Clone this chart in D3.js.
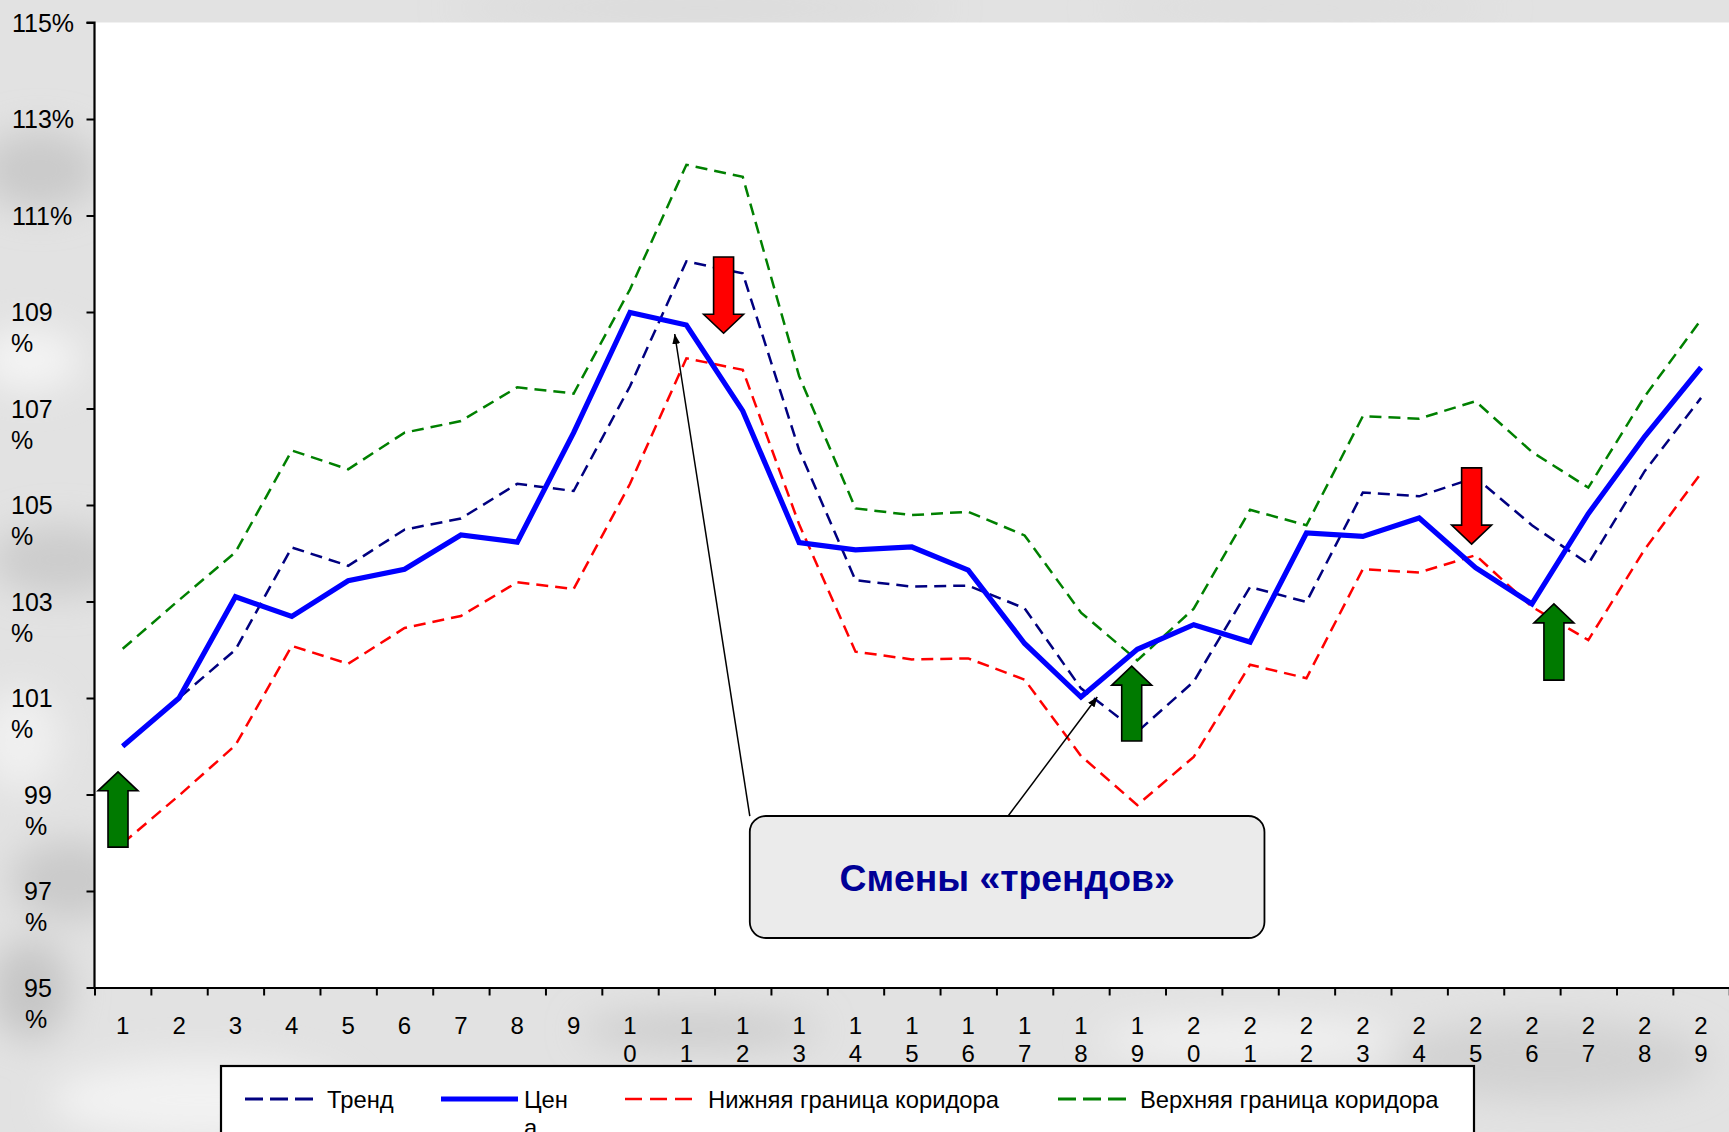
<!DOCTYPE html>
<html>
<head>
<meta charset="utf-8">
<script src="https://cdn.jsdelivr.net/npm/d3@7"></script>
<style>
  html, body { margin: 0; padding: 0; background: #e4e4e4; overflow: hidden; }
  svg { display: block; font-family: "Liberation Sans", Arial, sans-serif; }
</style>
</head>
<body>
<svg id="chart" width="1729" height="1132"></svg>
<script>
// ---------- data ----------
const categories = ["1","2","3","4","5","6","7","8","9","10","11","12","13","14","15","16","17","18","19","20","21","22","23","24","25","26","27","28","29"];
const trend = [100.0, 101.0, 102.0, 104.12, 103.74, 104.49, 104.72, 105.44, 105.29, 107.46, 110.05, 109.8, 106.14, 103.44, 103.31, 103.33, 102.86, 101.2, 100.3, 101.34, 103.3, 102.99, 105.26, 105.18, 105.57, 104.58, 103.78, 105.7, 107.22];
const price = [100.0, 101.0, 103.1, 102.69, 103.43, 103.67, 104.38, 104.23, 106.5, 108.99, 108.73, 106.95, 104.22, 104.07, 104.13, 103.65, 102.13, 101.02, 102.01, 102.52, 102.16, 104.42, 104.35, 104.73, 103.7, 102.95, 104.82, 106.42, 107.85];
const lower = [97.99, 98.98, 100.02, 102.08, 101.71, 102.45, 102.7, 103.4, 103.26, 105.44, 108.04, 107.8, 104.6, 101.96, 101.8, 101.82, 101.38, 99.8, 98.78, 99.78, 101.69, 101.41, 103.67, 103.6, 103.96, 102.89, 102.2, 104.08, 105.66];
const upper = [102.02, 103.03, 104.02, 106.13, 105.74, 106.5, 106.74, 107.44, 107.31, 109.47, 112.05, 111.8, 107.67, 104.93, 104.79, 104.86, 104.37, 102.77, 101.78, 102.85, 104.9, 104.58, 106.84, 106.79, 107.15, 106.1, 105.36, 107.25, 108.84];
const yTicks = [95, 97, 99, 101, 103, 105, 107, 109, 111, 113, 115];
const seriesNames = ["Тренд", "Цена", "Нижняя граница коридора", "Верхняя граница коридора"];
// annotation arrows: position in category units, from value -> to value
const upArrows = [{pos: 0.917, from: 97.91, to: 99.47}, {pos: 18.9, from: 100.11, to: 101.66}, {pos: 26.39, from: 101.37, to: 102.95}];
const downArrows = [{pos: 11.66, from: 110.14, to: 108.56}, {pos: 24.93, from: 105.77, to: 104.19}];
const calloutText = "Смены «трендов»";
const calloutBox = {p0: 12.125, p1: 21.255, v0: 98.554, v1: 96.026};
const calloutPointers = [{fromPos: 12.125, toPos: 10.793, toVal: 108.544}, {fromPos: 16.707, toPos: 18.289, toVal: 101.02}];

(function () {
// ---------- layout ----------
const W = 1729, H = 1132;
const mLeft = 94.5, mTop = 22.5, mBottom = 987.5, bandW = 56.37;
const mRight = mLeft + categories.length * bandW;

const svg = d3.select("#chart");
const defs = svg.append("defs");

// background texture
const blur = defs.append("filter").attr("id", "blur").attr("x", "-50%").attr("y", "-50%").attr("width", "200%").attr("height", "200%");
blur.append("feGaussianBlur").attr("stdDeviation", 18);
svg.append("rect").attr("width", W).attr("height", H).attr("fill", "#e2e2e2");
const blobs = [
  {x: 40, y: 170, rx: 60, ry: 40, c: "#cacaca"}, {x: 30, y: 360, rx: 50, ry: 30, c: "#f4f4f4"},
  {x: 60, y: 560, rx: 70, ry: 35, c: "#cccccc"}, {x: 20, y: 740, rx: 40, ry: 50, c: "#f0f0f0"},
  {x: 70, y: 880, rx: 60, ry: 40, c: "#cacaca"}, {x: 200, y: 1100, rx: 150, ry: 40, c: "#f2f2f2"},
  {x: 700, y: 1030, rx: 120, ry: 15, c: "#c8c8c8"}, {x: 1550, y: 1060, rx: 160, ry: 40, c: "#d2d2d2"},
  {x: 1250, y: 1040, rx: 150, ry: 20, c: "#f3f3f3"}, {x: 700, y: 8, rx: 250, ry: 10, c: "#d6d6d6"},
  {x: 1300, y: 8, rx: 200, ry: 10, c: "#dadada"}, {x: 30, y: 990, rx: 40, ry: 50, c: "#c6c6c6"}
];
svg.append("g").attr("filter", "url(#blur)").selectAll("ellipse").data(blobs).join("ellipse")
  .attr("cx", d => d.x).attr("cy", d => d.y).attr("rx", d => d.rx).attr("ry", d => d.ry).attr("fill", d => d.c);

// scales
const x = d3.scaleBand().domain(categories).range([mLeft, mRight]).padding(0);
const xPos = d3.scaleLinear().domain([0.5, categories.length + 0.5]).range([mLeft, mRight]);
const y = d3.scaleLinear().domain([95, 115]).range([mBottom, mTop]);

// plot area
svg.append("rect").attr("x", mLeft).attr("y", mTop).attr("width", W - mLeft).attr("height", mBottom - mTop).attr("fill", "#ffffff");

// lines
const line = d3.line().x((d, i) => x(categories[i]) + x.bandwidth() / 2).y(d => y(d));
const series = [
  {data: upper, color: "#008000", width: 2.5, dash: "12,7"},
  {data: lower, color: "#ff0000", width: 2.5, dash: "12,7"},
  {data: trend, color: "#000080", width: 2.5, dash: "12,7"},
  {data: price, color: "#0000ff", width: 5.2, dash: null}
];
svg.append("g").selectAll("path").data(series).join("path")
  .attr("d", d => line(d.data)).attr("fill", "none")
  .attr("stroke", d => d.color).attr("stroke-width", d => d.width)
  .attr("stroke-dasharray", d => d.dash).attr("stroke-linejoin", "miter");

// axes
const yAxis = d3.axisLeft(y).tickValues(yTicks).tickSize(8).tickFormat("");
const gy = svg.append("g").attr("transform", `translate(${mLeft},0)`).call(yAxis);
const xTickScale = d3.scaleLinear().domain([0, categories.length]).range([mLeft, mRight]);
const xAxis = d3.axisBottom(xTickScale).tickValues(d3.range(0, categories.length + 1)).tickSize(8).tickFormat("");
const gx = svg.append("g").attr("transform", `translate(0,${mBottom})`).call(xAxis);
[gx, gy].forEach(g => {
  g.selectAll("path.domain").attr("stroke", "#000").attr("stroke-width", 2.2);
  g.selectAll(".tick line").attr("stroke", "#000").attr("stroke-width", 2);
});
gx.select("path.domain").attr("d", `M${mLeft},0.5H${W}`);
gy.select("path.domain").attr("d", `M-8,${mTop}H0V${mBottom}`);

// y labels
const yl = svg.append("g").attr("font-size", 25).attr("fill", "#000");
yTicks.forEach(v => {
  const t = String(v);
  if (v >= 111) {
    yl.append("text").attr("x", 12).attr("y", y(v)).attr("dy", "0.36em").text(t + "%");
  } else if (t.length === 3) {
    yl.append("text").attr("x", 11).attr("y", y(v)).attr("dy", "0.36em").text(t);
    yl.append("text").attr("x", 11).attr("y", y(v) + 31).attr("dy", "0.36em").text("%");
  } else {
    yl.append("text").attr("x", 38).attr("y", y(v)).attr("dy", "0.36em").attr("text-anchor", "middle").text(t);
    yl.append("text").attr("x", 36).attr("y", y(v) + 31).attr("dy", "0.36em").attr("text-anchor", "middle").text("%");
  }
});

// x labels (wrapped digit per line)
const xl = svg.append("g").attr("font-size", 24).attr("fill", "#000").attr("text-anchor", "middle");
categories.forEach(c => {
  const cx = x(c) + x.bandwidth() / 2;
  c.split("").forEach((ch, k) => {
    xl.append("text").attr("x", cx).attr("y", 1025 + k * 28).attr("dy", "0.36em").text(ch);
  });
});

// arrows
function arrowPts(cx, yTip, yEnd) {
  const dir = yEnd > yTip ? 1 : -1;
  const hw = 20, sw = 10, hl = 19 * dir;
  return [[cx, yTip], [cx + hw, yTip + hl], [cx + sw, yTip + hl], [cx + sw, yEnd], [cx - sw, yEnd], [cx - sw, yTip + hl], [cx - hw, yTip + hl]];
}
const ag = svg.append("g");
ag.selectAll("path.up").data(upArrows).join("path").attr("class", "up")
  .attr("d", d => "M" + arrowPts(xPos(d.pos), y(d.to), y(d.from)).join("L") + "Z")
  .attr("fill", "#007a00").attr("stroke", "#000").attr("stroke-width", 1.6).attr("stroke-linejoin", "miter");
ag.selectAll("path.down").data(downArrows).join("path").attr("class", "down")
  .attr("d", d => "M" + arrowPts(xPos(d.pos), y(d.to), y(d.from)).join("L") + "Z")
  .attr("fill", "#ff0000").attr("stroke", "#000").attr("stroke-width", 1.6).attr("stroke-linejoin", "miter");

// callout
defs.append("marker").attr("id", "ah").attr("viewBox", "0 0 10 8").attr("refX", 10).attr("refY", 4)
  .attr("markerWidth", 10).attr("markerHeight", 8).attr("markerUnits", "userSpaceOnUse").attr("orient", "auto")
  .append("path").attr("d", "M0,0L10,4L0,8Z").attr("fill", "#000");
svg.append("g").selectAll("line").data(calloutPointers).join("line")
  .attr("x1", d => xPos(d.fromPos)).attr("y1", y(calloutBox.v0))
  .attr("x2", d => xPos(d.toPos)).attr("y2", d => y(d.toVal))
  .attr("stroke", "#000").attr("stroke-width", 1.5).attr("marker-end", "url(#ah)");
svg.append("rect")
  .attr("x", xPos(calloutBox.p0)).attr("y", y(calloutBox.v0))
  .attr("width", xPos(calloutBox.p1) - xPos(calloutBox.p0)).attr("height", y(calloutBox.v1) - y(calloutBox.v0))
  .attr("rx", 16).attr("ry", 16).attr("fill", "#ebebeb").attr("stroke", "#000").attr("stroke-width", 1.8);
svg.append("text")
  .attr("x", (xPos(calloutBox.p0) + xPos(calloutBox.p1)) / 2).attr("y", 891)
  .attr("text-anchor", "middle").attr("font-size", 37.3).attr("font-weight", "bold").attr("fill", "#000096")
  .text(calloutText);

// legend
const lg = svg.append("g");
lg.append("rect").attr("x", 221).attr("y", 1066).attr("width", 1253).attr("height", 100)
  .attr("fill", "#fff").attr("stroke", "#000").attr("stroke-width", 2.2);
const legendItems = [
  {name: seriesNames[0], color: "#000080", width: 3, dash: "18,7", x0: 245, x1: 313, tx: 327},
  {name: seriesNames[1], color: "#0000ff", width: 5, dash: null, x0: 441, x1: 518, tx: 524},
  {name: seriesNames[2], color: "#ff0000", width: 2.5, dash: "17,8", x0: 625, x1: 693, tx: 708},
  {name: seriesNames[3], color: "#008000", width: 3, dash: "18,7", x0: 1058, x1: 1126, tx: 1140}
];
legendItems.forEach(it => {
  lg.append("line").attr("x1", it.x0).attr("x2", it.x1).attr("y1", 1099).attr("y2", 1099)
    .attr("stroke", it.color).attr("stroke-width", it.width).attr("stroke-dasharray", it.dash);
  if (it.name === "Цена") {
    lg.append("text").attr("x", it.tx).attr("y", 1108).attr("font-size", 23.8).text("Цен");
    lg.append("text").attr("x", it.tx).attr("y", 1136).attr("font-size", 23.8).text("а");
  } else {
    lg.append("text").attr("x", it.tx).attr("y", 1108).attr("font-size", 23.8).text(it.name);
  }
});
})();
</script>
</body>
</html>
